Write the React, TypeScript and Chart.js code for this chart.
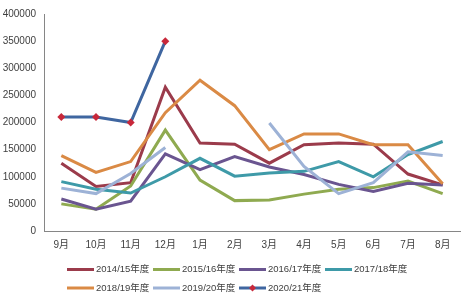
import React, { useEffect, useRef } from "react";
import { Chart, registerables } from "chart.js";

Chart.register(...registerables);

const categories = ["9月", "10月", "11月", "12月", "1月", "2月", "3月", "4月", "5月", "6月", "7月", "8月"];
const seriesNames = ["2014/15年度", "2015/16年度", "2016/17年度", "2017/18年度", "2018/19年度", "2019/20年度", "2020/21年度"];
const s1415 = [125000, 82000, 89000, 265000, 162000, 160000, 125000, 159000, 162000, 160000, 105000, 85000];
const s1516 = [50000, 40000, 83000, 186000, 94000, 56000, 57000, 68000, 77000, 80000, 92000, 69000];
const s1617 = [59000, 40000, 55000, 142000, 113000, 137000, 118000, 104000, 86000, 73000, 88000, 85000];
const s1718 = [91000, 77000, 70000, 100000, 134000, 101000, 107000, 110000, 128000, 100000, 141000, 165000];
const s1819 = [139000, 108000, 128000, 218000, 278000, 231000, 150000, 179000, 179000, 159000, 159000, 87000];
const s1920 = [79000, 69000, 106000, 154000, null, null, 199000, 119000, 69000, 89000, 146000, 139000];
const s2021 = [210000, 210000, 200000, 350000, null, null, null, null, null, null, null, null];
const yTicks = [0, 50000, 100000, 150000, 200000, 250000, 300000, 350000, 400000];

const colors = ["#9B3B4B", "#8FAA50", "#6A5590", "#3E9AA8", "#DA8A45", "#9DB2D6", "#3F66A0"];
const markerColor = "#C8283A";
const FONT = "'Liberation Sans', Arial, 'Noto Sans CJK SC', sans-serif";

const legendPlugin = {
  id: "excelLegend",
  afterDraw(chart: any) {
    const ctx = chart.ctx;
    ctx.save();
    ctx.font = `9.5px ${FONT}`;
    ctx.textBaseline = "middle";
    ctx.textAlign = "left";
    const rows = [[0, 1, 2, 3], [4, 5, 6]];
    const rowY = [269.5, 288];
    const startX = 67;
    const pitch = 86;
    const lineLen = 27;
    rows.forEach((row, ri) => {
      row.forEach((i, k) => {
        const x = startX + k * pitch;
        const y = rowY[ri];
        ctx.strokeStyle = colors[i];
        ctx.lineWidth = 3;
        ctx.beginPath();
        ctx.moveTo(x, y);
        ctx.lineTo(x + lineLen, y);
        ctx.stroke();
        if (i === 6) {
          ctx.fillStyle = markerColor;
          const cx = x + lineLen / 2;
          ctx.beginPath();
          ctx.moveTo(cx, y - 3.5);
          ctx.lineTo(cx + 3.5, y);
          ctx.lineTo(cx, y + 3.5);
          ctx.lineTo(cx - 3.5, y);
          ctx.closePath();
          ctx.fill();
        }
        ctx.fillStyle = "#404040";
        ctx.fillText(seriesNames[i], x + lineLen + 2, y);
      });
    });
    ctx.restore();
  },
};

export default function App() {
  const ref = useRef<HTMLCanvasElement>(null);
  useEffect(() => {
    document.body.style.margin = "0";
    const all = [s1415, s1516, s1617, s1718, s1819, s1920, s2021];
    const chart = new Chart(ref.current!, {
      type: "line",
      data: {
        labels: categories,
        datasets: all.map((d, i) => ({
          label: seriesNames[i],
          data: d,
          borderColor: colors[i],
          backgroundColor: colors[i],
          borderWidth: 3,
          tension: 0,
          spanGaps: false,
          pointRadius: i === 6 ? 4 : 0,
          pointHoverRadius: i === 6 ? 4 : 0,
          pointStyle: "rectRot",
          pointBackgroundColor: markerColor,
          pointBorderColor: markerColor,
          pointBorderWidth: 0,
          order: 7 - i,
        })),
      },
      options: {
        animation: false,
        responsive: false,
        maintainAspectRatio: false,
        layout: { padding: { left: 0, right: 6, top: 10, bottom: 42 } },
        plugins: {
          legend: { display: false },
          tooltip: { enabled: false },
        },
        scales: {
          x: {
            offset: true,
            grid: { display: false, drawTicks: false },
            border: { display: true, color: "#868686", width: 1 },
            ticks: { color: "#404040", font: { size: 10, family: FONT }, padding: 8, maxRotation: 0, autoSkip: false },
            afterFit: (s: any) => { s.height = 24; },
          },
          y: {
            min: 0,
            max: 400000,
            grid: { display: false, drawTicks: false },
            border: { display: true, color: "#868686", width: 1 },
            afterBuildTicks: (s: any) => { s.ticks = yTicks.map((v) => ({ value: v })); },
            ticks: { color: "#404040", font: { size: 10, family: FONT }, padding: 8, callback: (v: any) => String(v) },
            afterFit: (s: any) => { s.width = 44; },
          },
        },
      },
      plugins: [legendPlugin],
    });
    return () => chart.destroy();
  }, []);
  return (
    <div style={{ width: 466, height: 297 }}>
      <canvas ref={ref} width={466} height={297} style={{ display: "block" }} />
    </div>
  );
}
